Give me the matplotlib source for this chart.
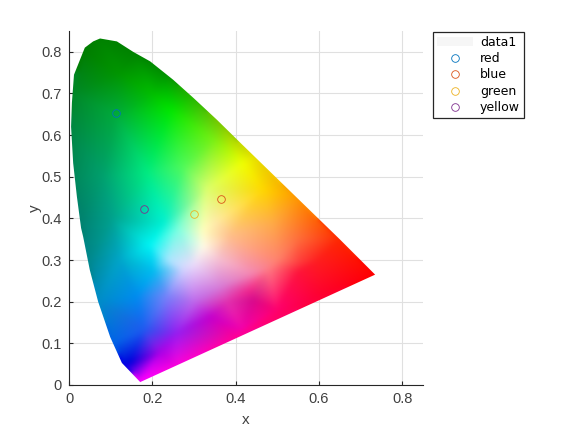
import numpy as np
import matplotlib
matplotlib.use('Agg')
import matplotlib.pyplot as plt
import matplotlib.tri as mtri
from matplotlib.patches import Polygon, Patch

# boundary of the horseshoe
locus_x = [0.171, 0.127, 0.099, 0.070, 0.050, 0.034, 0.029, 0.019, 0.010, 0.005, 0.007, 0.012, 0.038, 0.058,
           0.0745, 0.115, 0.154, 0.195, 0.250, 0.298, 0.355, 0.411, 0.550, 0.650, 0.735]
locus_y = [0.007, 0.053, 0.115, 0.200, 0.276, 0.356, 0.377, 0.452, 0.533, 0.620, 0.678, 0.745, 0.810, 0.825,
           0.832, 0.825, 0.800, 0.777, 0.733, 0.690, 0.637, 0.582, 0.447, 0.350, 0.265]

# colours seen in the picture: outer edge first, then the inside
spot_x = [0.171, 0.132, 0.105, 0.070, 0.046, 0.028, 0.009, 0.004, 0.007, 0.035, 0.074, 0.160, 0.230, 0.300,
          0.370, 0.450, 0.550, 0.650, 0.735, 0.600, 0.400, 0.259,
          0.243, 0.346, 0.418, 0.274, 0.187, 0.226, 0.259, 0.331, 0.322, 0.387, 0.466, 0.490,
          0.146, 0.178, 0.163, 0.202, 0.146, 0.235, 0.274, 0.322, 0.363, 0.442, 0.442, 0.339, 0.259, 0.219,
          0.418, 0.500, 0.550, 0.600, 0.500, 0.550, 0.110, 0.100, 0.080, 0.120, 0.120, 0.200,
          0.300, 0.380, 0.195, 0.240, 0.300, 0.360, 0.350, 0.480, 0.555, 0.435]
spot_y = [0.007, 0.048, 0.100, 0.200, 0.300, 0.400, 0.500, 0.600, 0.700, 0.805, 0.834, 0.800, 0.754, 0.692,
          0.625, 0.547, 0.450, 0.350, 0.265, 0.213, 0.115, 0.043,
          0.661, 0.589, 0.533, 0.524, 0.510, 0.389, 0.372, 0.469, 0.372, 0.356, 0.469, 0.389,
          0.053, 0.132, 0.212, 0.276, 0.293, 0.212, 0.276, 0.332, 0.236, 0.269, 0.204, 0.163, 0.125, 0.077,
          0.132, 0.180, 0.350, 0.300, 0.300, 0.270, 0.650, 0.400, 0.500, 0.300, 0.750, 0.700,
          0.200, 0.200, 0.337, 0.300, 0.290, 0.300, 0.390, 0.276, 0.295, 0.228]
spot_r = [255, 0, 0, 0, 0, 0, 0, 0, 0, 0, 0, 0, 0, 40, 130, 230, 255, 255, 255, 255, 255, 255,
          0, 120, 240, 80, 0, 0, 120, 220, 255, 255, 255, 255,
          0, 30, 0, 0, 0, 120, 210, 255, 215, 245, 215, 195, 150, 170,
          245, 255, 255, 255, 255, 255, 0, 0, 0, 0, 0, 0,
          190, 225, 0, 170, 235, 245, 255, 255, 255, 240]
spot_g = [0, 0, 100, 140, 135, 130, 135, 135, 135, 125, 130, 130, 140, 180, 200, 220, 150, 40, 0, 0, 0, 0,
          230, 240, 255, 250, 235, 240, 255, 255, 255, 190, 215, 170,
          0, 90, 140, 190, 180, 130, 210, 250, 125, 135, 10, 0, 30, 0,
          0, 0, 110, 30, 130, 20, 170, 160, 160, 165, 150, 190,
          105, 50, 245, 230, 220, 190, 235, 120, 60, 40]
spot_b = [255, 230, 230, 200, 140, 110, 90, 70, 40, 0, 0, 0, 0, 0, 0, 0, 0, 0, 0, 50, 150, 220,
          0, 20, 0, 90, 130, 210, 225, 110, 190, 140, 0, 70,
          220, 240, 240, 240, 210, 250, 255, 230, 215, 175, 140, 205, 240, 230,
          170, 110, 60, 30, 110, 60, 60, 140, 110, 200, 0, 0,
          235, 175, 245, 255, 250, 210, 170, 130, 60, 140]

names = ['red', 'blue', 'green', 'yellow']
pts_x = [0.113, 0.365, 0.300, 0.180]
pts_y = [0.653, 0.446, 0.410, 0.422]
pts_col = ['#0072bd', '#d95319', '#edb120', '#7e2f8e']

fig = plt.figure(figsize=(5.77, 4.33), dpi=100)
plt.rcParams['font.family'] = 'Liberation Sans'
ax = fig.add_axes([69 / 577, 1 - 385 / 433, (423 - 69) / 577, (385 - 31) / 433])

# fill between the colour spots
tri = mtri.Triangulation(spot_x, spot_y)
gx, gy = np.meshgrid(np.linspace(0, 0.85, 600), np.linspace(0, 0.85, 600))
layers = []
for chan in [spot_r, spot_g, spot_b]:
    vals = mtri.LinearTriInterpolator(tri, np.array(chan, dtype=float) / 255)(gx, gy)
    layers.append(np.ma.filled(vals, 0.0))
rgb = np.clip(np.dstack(layers), 0, 1)
# outside the triangulation: take the nearest spot so the clip edge stays coloured
mask = np.ma.getmaskarray(mtri.LinearTriInterpolator(tri, np.array(spot_r, dtype=float))(gx, gy))
sx, sy = np.array(spot_x), np.array(spot_y)
colors = np.column_stack([spot_r, spot_g, spot_b]) / 255
for i, j in zip(*np.nonzero(mask)):
    d = (sx - gx[i, j]) ** 2 + (sy - gy[i, j]) ** 2
    rgb[i, j] = colors[np.argmin(d)]

# soften the facets
win = np.ones(13) / 13
for axis in [0, 1]:
    for k in range(3):
        padded = np.pad(rgb[:, :, k], ((6, 6), (0, 0)) if axis == 0 else ((0, 0), (6, 6)), mode='edge')
        rgb[:, :, k] = np.apply_along_axis(lambda v: np.convolve(v, win, mode='valid'), axis, padded)

im = ax.imshow(rgb, origin='lower', extent=(0, 0.85, 0, 0.85), aspect='auto', zorder=2, interpolation='bilinear')
poly = Polygon(np.column_stack([locus_x, locus_y]), closed=True, transform=ax.transData, fc='none', ec='none')
ax.add_patch(poly)
im.set_clip_path(poly)

for px, py, c, n in zip(pts_x, pts_y, pts_col, names):
    ax.plot(px, py, 'o', mfc='none', mec=c, ms=5.5, mew=0.6, zorder=3, label=n)

ax.set_xlim(0, 0.85)
ax.set_ylim(0, 0.85)
ax.set_xticks([0, 0.2, 0.4, 0.6, 0.8])
ax.set_xticklabels(['0', '0.2', '0.4', '0.6', '0.8'])
ax.set_yticks([0, 0.1, 0.2, 0.3, 0.4, 0.5, 0.6, 0.7, 0.8])
ax.set_yticklabels(['0', '0.1', '0.2', '0.3', '0.4', '0.5', '0.6', '0.7', '0.8'])
ax.grid(True, color='#e0e0e0', lw=0.8, zorder=1)
ax.set_axisbelow(True)
ax.tick_params(direction='in', length=3, width=0.8, color='#262626', labelcolor='#404040', labelsize=10.5, pad=5)
ax.spines['top'].set_visible(False)
ax.spines['right'].set_visible(False)
ax.spines['left'].set_color('#262626')
ax.spines['bottom'].set_color('#262626')
ax.set_xlabel('x', fontsize=11, color='#404040', labelpad=5)
ax.set_ylabel('y', fontsize=11, color='#404040', labelpad=0)

handles, labels = ax.get_legend_handles_labels()
handles = [Patch(fc='#f6f6f6', ec='none')] + handles
labels = ['data1'] + labels
leg = fig.legend(handles, labels, loc='upper left', bbox_to_anchor=(433 / 577, 1 - 32 / 433), borderaxespad=0,
                 fancybox=False, framealpha=1, edgecolor='#262626', labelspacing=0.27,
                 handlelength=2.9, handletextpad=0.55, borderpad=0.3, prop={'family': 'DejaVu Sans', 'size': 9})
leg.get_frame().set_linewidth(0.9)

fig.savefig('out.png', dpi=100)
